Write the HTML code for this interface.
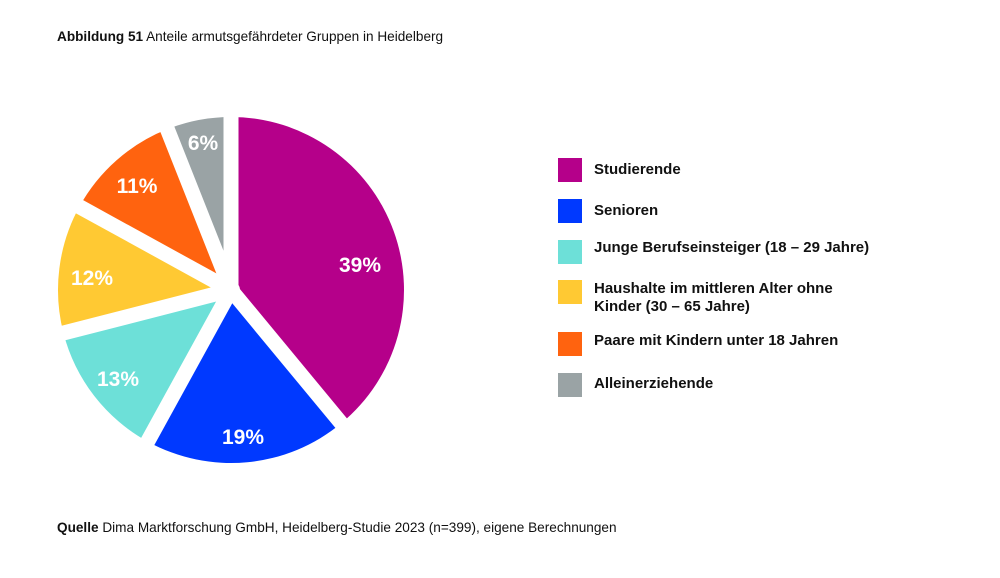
<!DOCTYPE html>
<html><head><meta charset="utf-8"><style>
body{margin:0;background:#fff;width:1000px;height:578px;overflow:hidden;font-family:"Liberation Sans",sans-serif;color:#111;position:relative}
.t{position:absolute;font-size:13.6px;white-space:nowrap}
.lg{position:absolute;left:558px;width:24px;height:24px}
.lt{position:absolute;left:594px;font-size:15px;font-weight:bold;white-space:nowrap;line-height:18px}
</style></head><body>
<div class="t" style="left:57px;top:29px"><b>Abbildung 51</b> Anteile armutsgefährdeter Gruppen in Heidelberg</div>
<div class="t" style="left:57px;top:520px"><b>Quelle</b> Dima Marktforschung GmbH, Heidelberg-Studie 2023 (n=399), eigene Berechnungen</div>
<svg id="pie" width="1000" height="578" style="position:absolute;left:0;top:0"></svg>
<div class="lg" style="top:158px;background:#b5008a"></div><div class="lt" style="top:161px">Studierende</div>
<div class="lg" style="top:199px;background:#0039ff"></div><div class="lt" style="top:202px">Senioren</div>
<div class="lg" style="top:240px;background:#6de0d8"></div><div class="lt" style="top:239px">Junge Berufseinsteiger (18 – 29 Jahre)</div>
<div class="lg" style="top:280px;background:#ffc933"></div><div class="lt" style="top:280px">Haushalte im mittleren Alter ohne<br>Kinder (30 – 65 Jahre)</div>
<div class="lg" style="top:332px;background:#ff630f"></div><div class="lt" style="top:332px">Paare mit Kindern unter 18 Jahren</div>
<div class="lg" style="top:373px;background:#9aa3a5"></div><div class="lt" style="top:375px">Alleinerziehende</div>
<script>
var cx=231,cy=290,r=173;
var d=[[39,"#b5008a","39%",360,265],[19,"#0039ff","19%",243,437],[13,"#6de0d8","13%",118,379],[12,"#ffc933","12%",92,278],[11,"#ff630f","11%",137,186],[6,"#9aa3a5","6%",203,143]];
var tot=100,a=0,s="",lines="";
function pt(deg,rr){var t=deg*Math.PI/180;return [cx+rr*Math.sin(t),cy-rr*Math.cos(t)];}
d.forEach(function(e){var a2=a+e[0]/tot*360;var p1=pt(a,r),p2=pt(a2,r);
s+='<path d="M'+cx+','+cy+'L'+p1[0]+','+p1[1]+'A'+r+','+r+' 0 '+((a2-a)>180?1:0)+' 1 '+p2[0]+','+p2[1]+'Z" fill="'+e[1]+'"/>';
var q=pt(a,r+5);lines+='<line x1="'+cx+'" y1="'+cy+'" x2="'+q[0]+'" y2="'+q[1]+'" stroke="#fff" stroke-width="15"/>';
a=a2;});
var txt="";d.forEach(function(e){txt+='<text x="'+e[3]+'" y="'+(e[4]+7)+'" fill="#fff" font-size="21" font-weight="bold" text-anchor="middle" font-family="Liberation Sans, sans-serif">'+e[2]+'</text>';});
document.getElementById('pie').innerHTML=s+lines+'<circle cx="'+cx+'" cy="'+cy+'" r="9" fill="#fff"/>'+txt;
</script>
</body></html>
